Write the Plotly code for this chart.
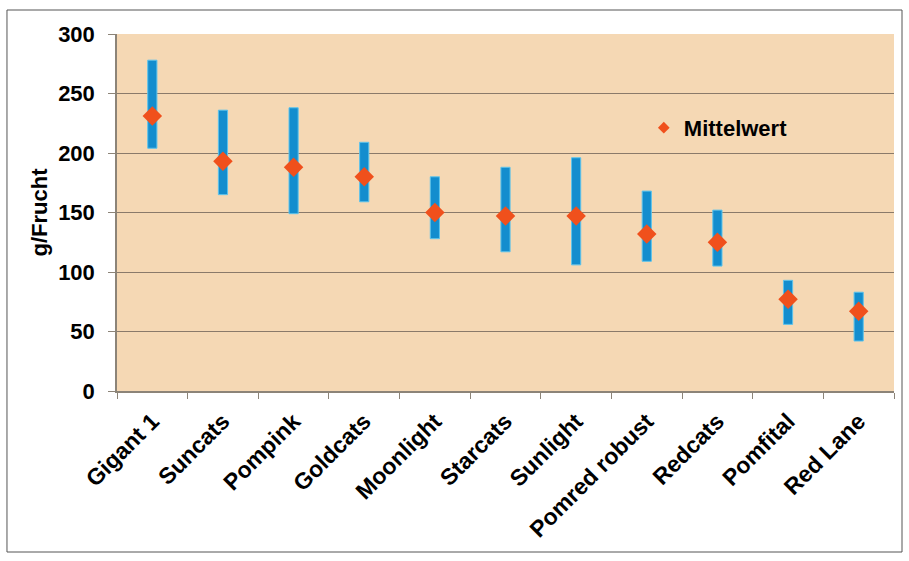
import plotly.graph_objects as go

sorten = ["Gigant 1", "Suncats", "Pompink", "Goldcats", "Moonlight", "Starcats",
          "Sunlight", "Pomred robust", "Redcats", "Pomfital", "Red Lane"]
minimum = [204, 165, 149, 159, 128, 117, 106, 109, 105, 56, 42]
maximum = [278, 236, 238, 209, 180, 188, 196, 168, 152, 93, 83]
mittelwert = [231, 193, 188, 180, 150, 147, 147, 132, 125, 77, 67]

spanne = [hi - lo for hi, lo in zip(maximum, minimum)]
FONT = "Liberation Sans, Arial, sans-serif"

fig = go.Figure()
fig.add_trace(go.Bar(
    x=sorten, y=spanne, base=minimum, width=0.13,
    marker=dict(color="#138dce", line=dict(color="#5cc3ec", width=1)),
    showlegend=False, name="Spanne"))
fig.add_trace(go.Scatter(
    x=sorten, y=mittelwert, mode="markers",
    marker=dict(symbol="diamond", size=15, color="#f0501c"),
    showlegend=False, name="Mittelwert"))
fig.add_trace(go.Scatter(
    x=[None], y=[None], mode="markers",
    marker=dict(symbol="diamond", size=9, color="#f0501c"),
    showlegend=True, name="<b>Mittelwert</b>"))

fig.update_layout(
    width=909, height=561,
    margin=dict(l=117, r=15, t=34, b=170),
    paper_bgcolor="white", plot_bgcolor="#f5d8b4",
    font=dict(family=FONT, color="black"),
    legend=dict(x=0.678, y=0.737, xanchor="left", yanchor="middle",
                bgcolor="rgba(0,0,0,0)", font=dict(size=22, family=FONT),
                itemwidth=30),
    barmode="overlay",
    shapes=[dict(type="rect", xref="paper", yref="paper",
                 x0=-0.1416, x1=1.0103, y0=-0.451, y1=1.0672,
                 line=dict(color="#555555", width=1), layer="below")],
)
fig.update_xaxes(
    tickangle=-45, tickfont=dict(size=23, family=FONT),
    tickprefix="<b>", ticksuffix="</b>",
    showline=True, linecolor="#8c8478", linewidth=1.5,
    ticks="outside", ticklen=6, tickcolor="#8c8478", tickson="boundaries",
    ticklabelstandoff=6,
    showgrid=False, range=[-0.5, 10.5])
fig.update_yaxes(
    range=[0, 300], dtick=50,
    tickfont=dict(size=22, family=FONT),
    tickprefix="<b>", ticksuffix="</b>",
    showline=True, linecolor="#8c8478", linewidth=1.5,
    ticks="outside", ticklen=7, tickcolor="#8c8478",
    ticklabelstandoff=9,
    showgrid=True, gridcolor="#8a7a6a", gridwidth=1,
    zeroline=False,
    title=dict(text="<b>g/Frucht</b>", font=dict(size=22), standoff=4))

fig.write_html("out.html", config={"displayModeBar": False},
               post_script="document.body.style.margin='0';")
